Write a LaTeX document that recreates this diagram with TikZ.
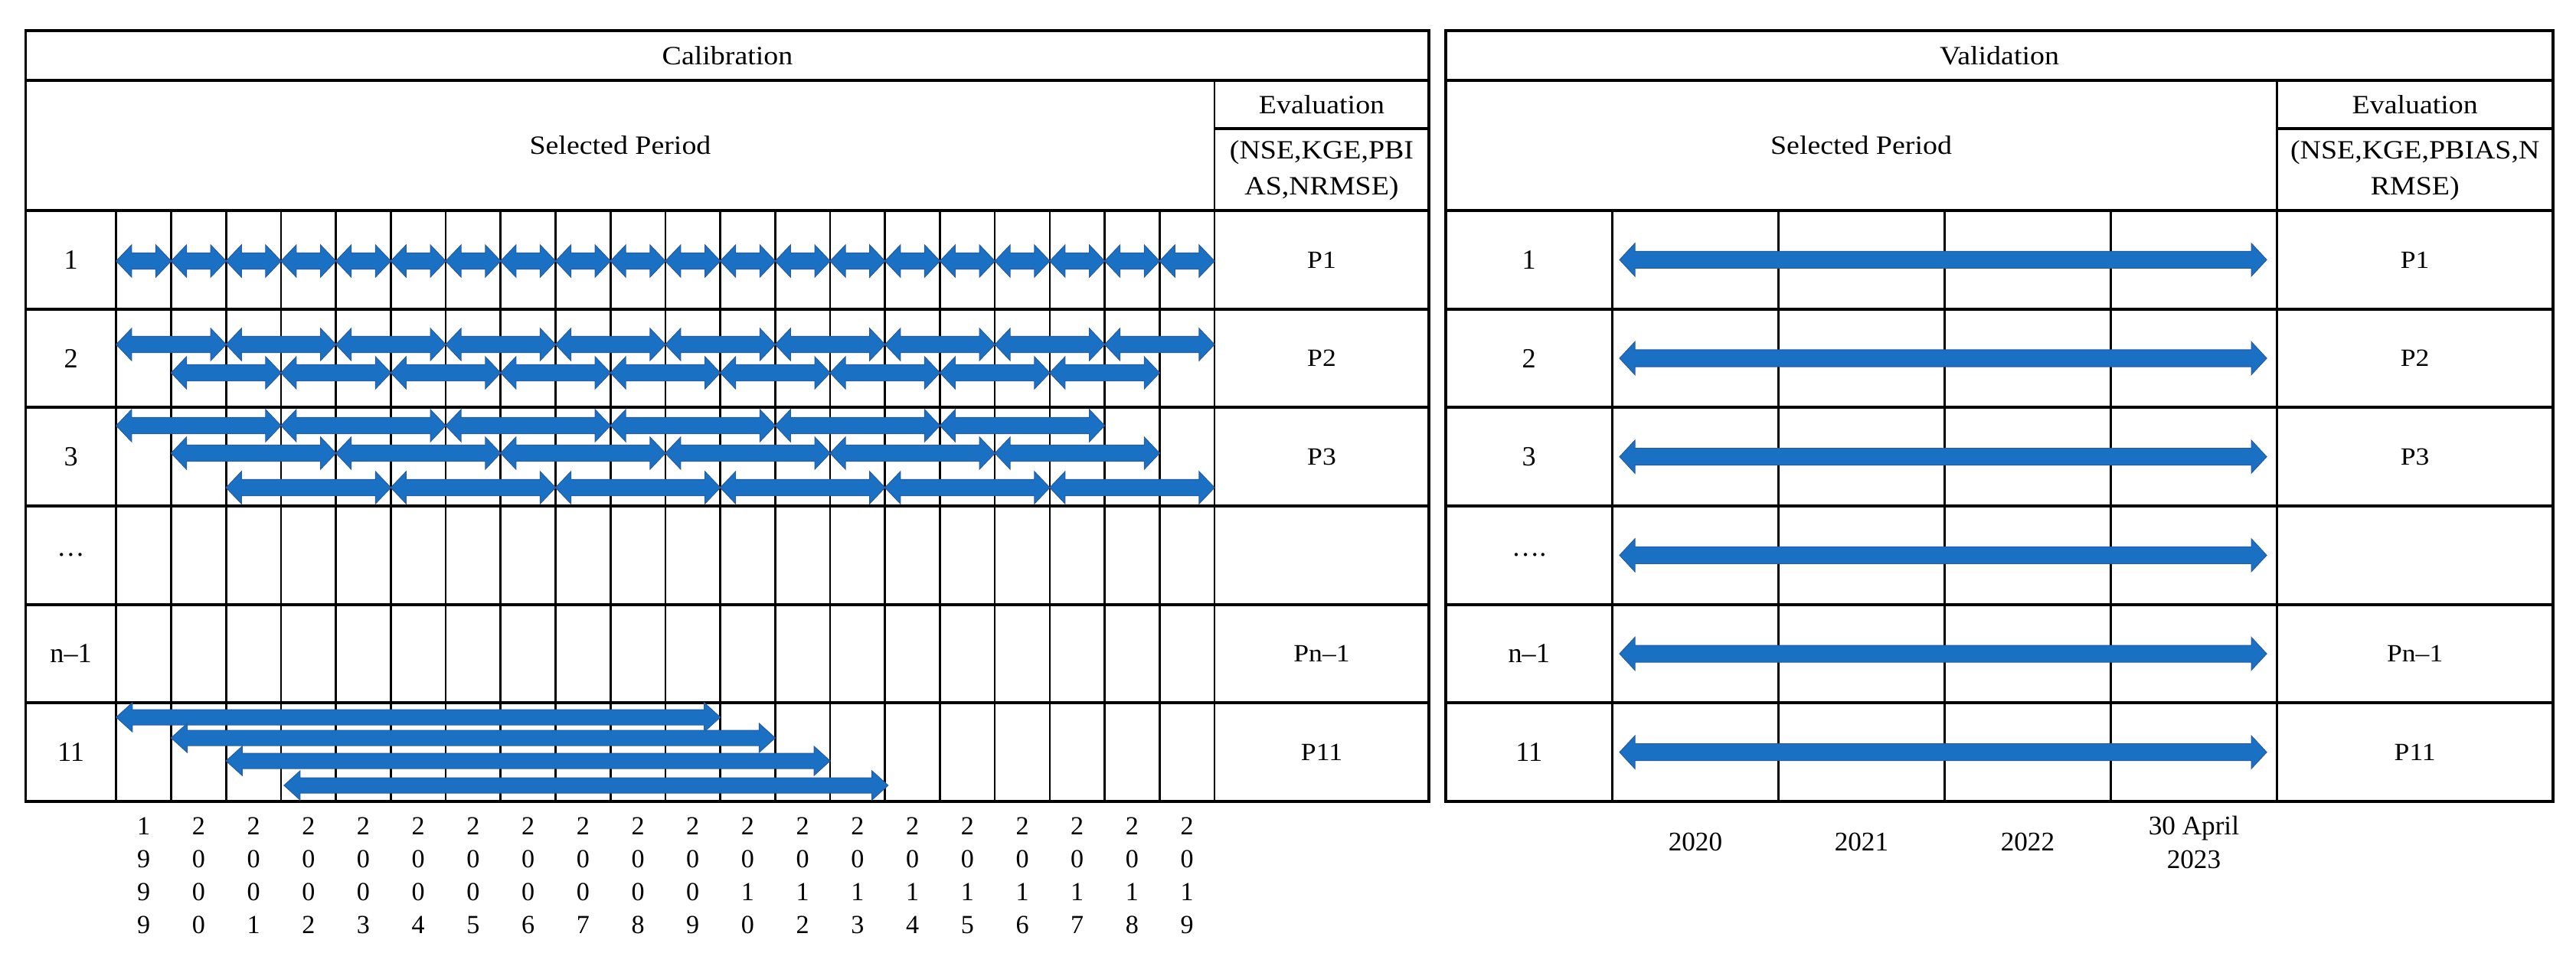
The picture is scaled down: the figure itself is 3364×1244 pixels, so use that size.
\documentclass[tikz,border=0pt]{standalone}
\usepackage{fontspec}
\setmainfont{Liberation Serif}
\newfontfamily\hdrfont[FakeStretch=1.1]{Liberation Serif}
\definecolor{arrowblue}{RGB}{26,113,196}
\definecolor{arrowedge}{RGB}{38,92,166}
\newcommand{\arrHL}{20}
\newcommand{\arrHS}{10.5}
\newcommand{\arrHH}{21}
\newcommand{\dbarrow}[3]{%
  \pgfmathsetmacro\arrAx{#1}\pgfmathsetmacro\arrBx{#2}\pgfmathsetmacro\arrCy{#3}%
  \filldraw[arr] (\arrAx,\arrCy) -- ({\arrAx+\arrHL},{\arrCy-\arrHH}) -- ({\arrAx+\arrHL},{\arrCy-\arrHS})
    -- ({\arrBx-\arrHL},{\arrCy-\arrHS}) -- ({\arrBx-\arrHL},{\arrCy-\arrHH}) -- (\arrBx,\arrCy)
    -- ({\arrBx-\arrHL},{\arrCy+\arrHH}) -- ({\arrBx-\arrHL},{\arrCy+\arrHS})
    -- ({\arrAx+\arrHL},{\arrCy+\arrHS}) -- ({\arrAx+\arrHL},{\arrCy+\arrHH}) -- cycle;}
\begin{document}
\begin{tikzpicture}[x=0.01cm,y=-0.01cm,
  hline/.style={line width=1.1pt},
  vline/.style={line width=0.75pt},
  hdr/.style={font=\hdrfont\fontsize{9.8}{13.3}\selectfont, align=center, inner sep=0pt},
  lbl/.style={font=\fontsize{10.3}{12}\selectfont, inner sep=0pt},
  plbl/.style={font=\hdrfont\fontsize{9.2}{12}\selectfont, inner sep=0pt},
  yr/.style={font=\fontsize{9.7}{12.23}\selectfont, align=center, inner sep=0pt},
  yrr/.style={font=\fontsize{10}{12.5}\selectfont, align=center, inner sep=0pt},
  arr/.style={fill=arrowblue, draw=arrowedge, line width=0.3pt, line join=miter}]
\useasboundingbox (0,0) rectangle (3364,1244);
% ---------------- Calibration table ----------------
\draw[hline] (33.5,40) rectangle (1866,1047);
\foreach \yy in {105,275,403.67,532.33,661,789.67,918.33}
  \draw[hline] (33.5,\yy) -- (1866,\yy);
\draw[hline] (1586,168) -- (1866,168);
\draw[vline] (1586,105) -- (1586,1047);
\foreach \i in {0,...,19}
  \draw[vline] ({151.8+\i*71.71},275) -- ({151.8+\i*71.71},1047);
% ---------------- Validation table ----------------
\draw[hline] (1888,40) rectangle (3334,1047);
\foreach \yy in {105,275,403.67,532.33,661,789.67,918.33}
  \draw[hline] (1888,\yy) -- (3334,\yy);
\draw[hline] (2973.4,168) -- (3334,168);
\draw[vline] (2973.4,105) -- (2973.4,1047);
\foreach \i in {0,...,3}
  \draw[vline] ({2105.4+\i*217},275) -- ({2105.4+\i*217},1047);
% ---------------- headers ----------------
\node[hdr] (calT) at (950,72.5) {Calibration};
\node[hdr] (valT) at (2611,72.5) {Validation};
\node[hdr] (calSP) at (810,190) {Selected Period};
\node[hdr] (valSP) at (2430.5,190) {Selected Period};
\node[hdr] (calEv) at (1726,136.5) {Evaluation};
\node[hdr] (valEv) at (3153.7,136.5) {Evaluation};
\node[hdr] (calMet) at (1726,223) {(NSE,KGE,PBI\\AS,NRMSE)};
\node[hdr] (valMet) at (3153.7,223) {(NSE,KGE,PBIAS,N\\RMSE)};
% ---------------- row labels ----------------
\foreach \t/\k in {1/0,2/1,3/2,…/3,n–1/4,11/5}
  \node[lbl] (cl\k) at (92.6,{275+128.67*(\k+0.5)}) {\t};
\foreach \t/\k in {1/0,2/1,3/2,…./3,n–1/4,11/5}
  \node[lbl] (vl\k) at (1996.7,{275+128.67*(\k+0.5)}) {\t};
\foreach \t/\k in {P1/0,P2/1,P3/2,Pn–1/4,P11/5}
  \node[plbl] (cp\k) at (1726,{275+128.67*(\k+0.5)}) {\t};
\foreach \t/\k in {P1/0,P2/1,P3/2,Pn–1/4,P11/5}
  \node[plbl] (vp\k) at (3153.7,{275+128.67*(\k+0.5)}) {\t};
% ---------------- years ----------------
\foreach \a/\b/\c/\d [count=\i from 0] in {1/9/9/9,2/0/0/0,2/0/0/1,2/0/0/2,2/0/0/3,2/0/0/4,2/0/0/5,2/0/0/6,2/0/0/7,2/0/0/8,2/0/0/9,2/0/1/0,2/0/1/2,2/0/1/3,2/0/1/4,2/0/1/5,2/0/1/6,2/0/1/7,2/0/1/8,2/0/1/9}
  \node[yr] (y\i) at ({151.8+(\i+0.5)*71.71},1144) {\a\\\b\\\c\\\d};
\node[yrr] (vy0) at (2213.9,1100) {2020};
\node[yrr] (vy1) at (2430.9,1100) {2021};
\node[yrr] (vy2) at (2647.9,1100) {2022};
\node[yrr] (vy3) at (2864.9,1100) {30 April\\2023};
% ---------------- calibration arrows ----------------
\foreach \i in {0,...,19}
  \dbarrow{151.8+\i*71.71}{151.8+(\i+1)*71.71}{341};
\foreach \i in {0,...,9}
  \dbarrow{151.8+2*\i*71.71}{151.8+(2*\i+2)*71.71}{450};
\foreach \i in {0,...,8}
  \dbarrow{151.8+(2*\i+1)*71.71}{151.8+(2*\i+3)*71.71}{487};
\foreach \i in {0,...,5}
  \dbarrow{151.8+3*\i*71.71}{151.8+(3*\i+3)*71.71}{556};
\foreach \i in {0,...,5}
  \dbarrow{151.8+(3*\i+1)*71.71}{151.8+(3*\i+4)*71.71}{592};
\foreach \i in {0,...,5}
  \dbarrow{151.8+(3*\i+2)*71.71}{151.8+(3*\i+5)*71.71}{637};
\renewcommand{\arrHS}{10}\renewcommand{\arrHH}{19}\renewcommand{\arrHL}{21}
\dbarrow{151.8}{151.8+11*71.71}{937}
\dbarrow{151.8+71.71}{151.8+12*71.71}{964}
\dbarrow{151.8+2*71.71}{151.8+13*71.71}{994}
\dbarrow{151.8+3*71.71+4}{151.8+14*71.71+4}{1026}
% ---------------- validation arrows ----------------
\renewcommand{\arrHS}{11}\renewcommand{\arrHH}{21.5}\renewcommand{\arrHL}{20}
\foreach \k in {0,...,5}
  \dbarrow{2115}{2960}{275+128.67*(\k+0.5)};
\end{tikzpicture}
\end{document}
